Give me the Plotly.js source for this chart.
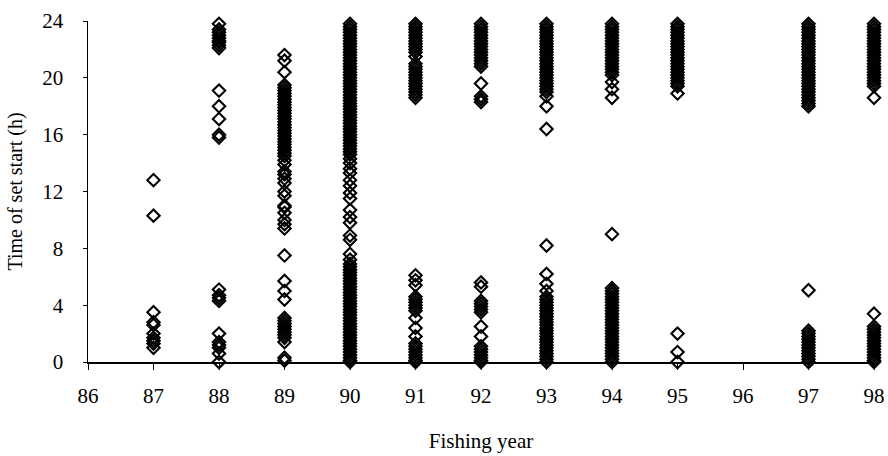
<!DOCTYPE html>
<html>
<head>
<meta charset="utf-8">
<script src="https://cdn.plot.ly/plotly-3.0.1.min.js"></script>
<style>
  html, body { margin: 0; padding: 0; background: #fff; }
  #chart { width: 888px; height: 456px; }
</style>
</head>
<body>
<div id="chart"></div>
<script>
// Fishing years on the x axis (tick labels)
const yearTicks = [86, 87, 88, 89, 90, 91, 92, 93, 94, 95, 96, 97, 98];
// Y axis ticks (hours)
const hourTicks = [0, 4, 8, 12, 16, 20, 24];

// Time of set start (h), one list per fishing year
const hours87 = [12.8, 10.3, 3.5, 2.8, 2.6, 2.0, 1.7, 1.5, 1.3, 1.0];
const hours88 = [23.8, 23.4, 23.2, 23.0, 22.8, 22.6, 22.5, 22.3, 22.1,
  19.1, 18.0, 17.1, 16.0, 15.8, 5.1, 4.7, 4.5, 4.3, 2.0, 1.4, 1.2, 1.0, 0.6, 0.0];
const hours89 = [21.6, 21.2, 20.4, 19.5, 19.3, 19.1, 18.9, 18.7, 18.5, 18.3, 18.1,
  17.9, 17.7, 17.5, 17.3, 17.1, 16.9, 16.7, 16.5, 16.3, 16.1, 15.9, 15.7, 15.5,
  15.3, 15.1, 14.9, 14.7, 14.5, 14.2, 13.9, 13.4, 13.2, 12.9, 12.6, 12.0, 11.7,
  11.0, 10.9, 10.5, 10.0, 9.7, 9.4, 7.5, 5.7, 5.0, 4.4, 3.1, 2.9, 2.7, 2.5, 2.3,
  2.1, 1.9, 1.7, 1.4, 0.3, 0.1];
const hours90 = [23.8, 23.6, 23.4, 23.2, 23.0, 22.8, 22.6, 22.4, 22.2, 22.0, 21.8,
  21.6, 21.4, 21.2, 21.0, 20.8, 20.6, 20.4, 20.2, 20.0, 19.8, 19.6, 19.4, 19.2,
  19.0, 18.8, 18.6, 18.4, 18.2, 18.0, 17.8, 17.6, 17.4, 17.2, 17.0, 16.8, 16.6,
  16.4, 16.2, 16.0, 15.8, 15.6, 15.4, 15.2, 15.0, 14.8, 14.6, 14.3, 14.0, 13.6,
  13.3, 12.8, 12.4, 11.9, 11.5, 10.7, 10.2, 9.8, 8.9, 8.6, 7.6, 7.2, 6.9, 6.7,
  6.5, 6.3, 6.1, 5.9, 5.7, 5.5, 5.3, 5.1, 4.9, 4.7, 4.5, 4.3, 4.1, 3.9, 3.7, 3.5,
  3.3, 3.1, 2.9, 2.7, 2.5, 2.3, 2.1, 1.9, 1.7, 1.5, 1.3, 1.1, 0.9, 0.7, 0.5, 0.3,
  0.1, 0.0];
const hours91 = [23.8, 23.6, 23.4, 23.2, 23.0, 22.8, 22.6, 22.4, 22.2, 22.0, 21.8,
  21.5, 21.0, 20.8, 20.6, 20.4, 20.2, 20.0, 19.8, 19.6, 19.4, 19.2, 19.0, 18.8,
  18.6, 6.1, 5.75, 5.4, 4.6, 4.4, 4.2, 4.0, 3.8, 3.6, 3.1, 2.4, 1.8, 1.3, 1.1,
  0.9, 0.7, 0.5, 0.3, 0.1, 0.0];
const hours92 = [23.8, 23.6, 23.4, 23.2, 23.0, 22.8, 22.6, 22.4, 22.2, 22.0, 21.8,
  21.6, 21.4, 21.2, 21.0, 20.8, 19.6, 18.7, 18.5, 18.3, 5.6, 5.3, 4.3, 4.1, 3.9,
  3.7, 3.5, 2.5, 1.8, 1.1, 0.9, 0.7, 0.5, 0.3, 0.1, 0.0];
const hours93 = [23.8, 23.6, 23.4, 23.2, 23.0, 22.8, 22.6, 22.4, 22.2, 22.0, 21.8,
  21.6, 21.4, 21.2, 21.0, 20.8, 20.6, 20.4, 20.2, 20.0, 19.8, 19.6, 19.4, 19.2,
  19.0, 18.7, 18.0, 16.4, 8.2, 6.2, 5.5, 5.0, 4.6, 4.4, 4.2, 4.0, 3.8, 3.6, 3.4,
  3.2, 3.0, 2.8, 2.6, 2.4, 2.2, 2.0, 1.8, 1.6, 1.4, 1.2, 1.0, 0.8, 0.6, 0.4, 0.2,
  0.0];
const hours94 = [23.8, 23.6, 23.4, 23.2, 23.0, 22.8, 22.6, 22.4, 22.2, 22.0, 21.8,
  21.6, 21.4, 21.2, 21.0, 20.8, 20.6, 20.4, 20.2, 19.7, 19.2, 18.6, 9.0, 5.2, 5.0,
  4.8, 4.6, 4.4, 4.2, 4.0, 3.8, 3.6, 3.4, 3.2, 3.0, 2.8, 2.6, 2.4, 2.2, 2.0, 1.8,
  1.6, 1.4, 1.2, 1.0, 0.8, 0.6, 0.4, 0.2, 0.0];
const hours95 = [23.8, 23.6, 23.4, 23.2, 23.0, 22.8, 22.6, 22.4, 22.2, 22.0, 21.8,
  21.6, 21.4, 21.2, 21.0, 20.8, 20.6, 20.4, 20.2, 20.0, 19.8, 19.6, 19.4, 18.9,
  2.0, 0.7, 0.0];
const hours96 = [];
const hours97 = [23.8, 23.6, 23.4, 23.2, 23.0, 22.8, 22.6, 22.4, 22.2, 22.0, 21.8,
  21.6, 21.4, 21.2, 21.0, 20.8, 20.6, 20.4, 20.2, 20.0, 19.8, 19.6, 19.4, 19.2,
  19.0, 18.8, 18.6, 18.4, 18.2, 18.0, 5.05, 2.2, 2.0, 1.8, 1.6, 1.4, 1.2, 1.0,
  0.8, 0.6, 0.4, 0.2, 0.0];
const hours98 = [23.8, 23.6, 23.4, 23.2, 23.0, 22.8, 22.6, 22.4, 22.2, 22.0, 21.8,
  21.6, 21.4, 21.2, 21.0, 20.8, 20.6, 20.4, 20.2, 20.0, 19.8, 19.6, 19.4, 18.6,
  3.4, 2.5, 2.3, 2.1, 1.9, 1.7, 1.5, 1.3, 1.1, 0.9, 0.7, 0.5, 0.3, 0.1, 0.0];

const seriesByYear = [
  [87, hours87], [88, hours88], [89, hours89], [90, hours90], [91, hours91],
  [92, hours92], [93, hours93], [94, hours94], [95, hours95], [96, hours96],
  [97, hours97], [98, hours98]
];

const xs = [], ys = [];
seriesByYear.forEach(([yr, hrs]) => {
  hrs.forEach(h => { xs.push(yr); ys.push(h); });
});

const FONT = 'Liberation Serif, Times New Roman, serif';

const trace = {
  type: 'scatter',
  mode: 'markers',
  x: xs,
  y: ys,
  cliponaxis: false,
  hoverinfo: 'x+y',
  marker: {
    symbol: 'diamond-open',
    size: 9.5,
    color: '#000',
    line: { color: '#000', width: 2.1 }
  },
  showlegend: false
};

const layout = {
  width: 888,
  height: 456,
  margin: { l: 88, r: 14, t: 21, b: 94 },
  paper_bgcolor: '#fff',
  plot_bgcolor: '#fff',
  font: { family: FONT, size: 21, color: '#000' },
  xaxis: {
    range: [86, 98],
    tickmode: 'array',
    tickvals: yearTicks,
    ticktext: yearTicks.map(String),
    ticks: 'outside',
    ticklen: 6,
    tickwidth: 1,
    tickcolor: '#000',
    showline: true,
    linecolor: '#000',
    linewidth: 1.5,
    showgrid: false,
    zeroline: false,
    tickfont: { family: FONT, size: 21, color: '#000' },
    ticklabelstandoff: 8,
    title: { text: 'Fishing year', font: { family: FONT, size: 21, color: '#000' }, standoff: 26 },
    fixedrange: true
  },
  yaxis: {
    range: [0, 24],
    tickmode: 'array',
    tickvals: hourTicks,
    ticktext: hourTicks.map(String),
    ticks: 'outside',
    ticklen: 4,
    tickwidth: 1,
    tickcolor: '#000',
    showline: true,
    linecolor: '#000',
    linewidth: 1.5,
    showgrid: false,
    zeroline: false,
    tickfont: { family: FONT, size: 21, color: '#000' },
    ticklabelstandoff: 15,
    title: { text: 'Time of set start (h)', font: { family: FONT, size: 20, color: '#000' }, standoff: 14 },
    fixedrange: true
  }
};

Plotly.newPlot('chart', [trace], layout, { staticPlot: true, displayModeBar: false });
</script>
</body>
</html>
